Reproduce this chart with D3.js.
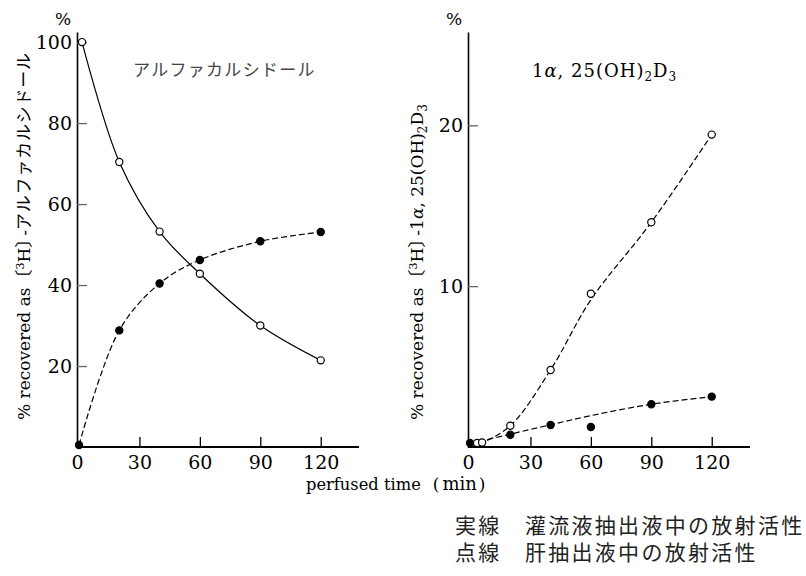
<!DOCTYPE html>
<html>
<head>
<meta charset="utf-8">
<script src="https://cdn.jsdelivr.net/npm/d3@7"></script>
<style>
  body { margin: 0; background: #fff; }
  svg { display: block; }
  .serif { font-family: "DejaVu Serif", "Liberation Serif", serif; }
  .jp { font-family: "Noto Sans CJK JP", sans-serif; }
</style>
</head>
<body>
<svg id="chart" width="806" height="576"></svg>
<script>
// ---- data ----
const xTicks = [0, 30, 60, 90, 120];
const leftYTicks = [20, 40, 60, 80, 100];
const rightYTicks = [10, 20];

// left panel: alfacalcidol
const leftOpenTimes = [1.5, 20, 40, 60, 90, 120];
const leftOpenValues = [100, 70.4, 53.2, 42.8, 30.0, 21.4];      // perfusate (solid)
const leftFilledTimes = [0, 20, 40, 60, 90, 120];
const leftFilledValues = [0.5, 28.8, 40.4, 46.2, 50.8, 53.1];    // liver (dashed)

// right panel: 1a,25(OH)2D3
const rightOpenTimes = [3.5, 6, 20, 40, 60, 90, 120];
const rightOpenValues = [0.25, 0.28, 1.32, 4.79, 9.53, 13.97, 19.42];
const rightFilledTimes = [0, 20, 40, 60, 90, 120];
const rightFilledValues = [0.25, 0.76, 1.37, 1.24, 2.66, 3.13];
// dashed curves on the right are smoothed fits
const rightOpenFitTimes = [0, 6, 20, 40, 60, 90, 120];
const rightOpenFitValues = [0.1, 0.28, 1.32, 4.79, 9.15, 13.97, 19.42];
const rightFilledFitTimes = [0, 20, 40, 60, 90, 120];
const rightFilledFitValues = [0.2, 0.8, 1.38, 1.95, 2.66, 3.13];

const svg = d3.select('#chart');
const zip = (ts, vs) => ts.map((t, i) => ({t: t, v: vs[i]}));

function drawPanel(opt) {
  const xScale = d3.scaleLinear().domain([-1, 139]).range([opt.x0, opt.x0 + 282]);
  const yScale = d3.scaleLinear().domain([0, opt.yMax]).range([447, 32]);

  // x axis, ticks pointing up
  const gx = svg.append('g')
    .attr('transform', 'translate(0,447)')
    .call(d3.axisBottom(xScale).tickValues(xTicks).tickSizeInner(-10).tickSizeOuter(0).tickPadding(9));
  gx.select('.domain').attr('stroke', '#000').attr('stroke-width', 2.2)
    .attr('d', `M${opt.x0},0H${opt.x0 + 282}`);
  gx.selectAll('.tick line').attr('stroke', '#000').attr('stroke-width', 1.3)
    .attr('display', d => d === 0 ? 'none' : null);
  gx.selectAll('.tick text').attr('class', 'serif').style('font-size', '19px').attr('fill', '#000')
    .attr('x', d => d === 0 ? opt.x0 - xScale(0) : 0);

  // y axis, ticks pointing right
  const gy = svg.append('g')
    .attr('transform', `translate(${opt.x0},0)`)
    .call(d3.axisLeft(yScale).tickValues(opt.yTicks).tickSizeInner(-10).tickSizeOuter(0).tickPadding(5));
  gy.select('.domain').attr('stroke', '#000').attr('stroke-width', 1.6);
  gy.selectAll('.tick line').attr('stroke', '#666').attr('stroke-width', 1.3);
  gy.selectAll('.tick text').attr('class', 'serif').style('font-size', '19px').attr('fill', '#000');

  // "%" unit
  svg.append('text').attr('class', 'serif')
    .attr('x', opt.x0 - 14).attr('y', 25)
    .style('text-anchor', 'middle').style('font-size', '17px')
    .text('%');

  const line = d3.line()
    .x(d => xScale(d.t))
    .y(d => yScale(d.v))
    .curve(d3.curveCatmullRom.alpha(0.5));

  opt.curves.forEach(c => {
    svg.append('path')
      .attr('d', line(c.data))
      .attr('fill', 'none')
      .attr('stroke', '#000')
      .attr('stroke-width', 1.2)
      .attr('stroke-dasharray', c.dashed ? '6,3' : null);
  });

  opt.points.forEach(p => {
    svg.append('g').selectAll('circle')
      .data(p.data)
      .enter()
      .append('circle')
      .attr('cx', d => xScale(d.t))
      .attr('cy', d => yScale(d.v))
      .attr('r', 3.6)
      .attr('fill', p.open ? '#fff' : '#000')
      .attr('stroke', '#000')
      .attr('stroke-width', 1.2);
  });
}

drawPanel({
  x0: 77, yMax: 102.5, yTicks: leftYTicks,
  curves: [
    {data: zip(leftOpenTimes, leftOpenValues), dashed: false},
    {data: zip(leftFilledTimes, leftFilledValues), dashed: true}
  ],
  points: [
    {data: zip(leftFilledTimes, leftFilledValues), open: false},
    {data: zip(leftOpenTimes, leftOpenValues), open: true}
  ]
});

drawPanel({
  x0: 468, yMax: 25.8, yTicks: rightYTicks,
  curves: [
    {data: zip(rightOpenFitTimes, rightOpenFitValues), dashed: true},
    {data: zip(rightFilledFitTimes, rightFilledFitValues), dashed: true}
  ],
  points: [
    {data: zip(rightFilledTimes, rightFilledValues), open: false},
    {data: zip(rightOpenTimes, rightOpenValues), open: true}
  ]
});

// panel titles
svg.append('text').attr('class', 'jp')
  .attr('x', 133).attr('y', 76)
  .style('font-size', '17px').style('letter-spacing', '1.3px').attr('fill', '#444')
  .text('アルファカルシドール');

function d3Formula(t) {
  t.append('tspan').text('1');
  t.append('tspan').style('font-style', 'italic').text('α');
  t.append('tspan').text(', 25(OH)');
  t.append('tspan').attr('dy', 4).style('font-size', '12px').text('2');
  t.append('tspan').attr('dy', -4).text('D');
  t.append('tspan').attr('dy', 4).style('font-size', '12px').text('3');
}

const rt = svg.append('text').attr('class', 'serif')
  .attr('x', 532).attr('y', 77)
  .style('font-size', '18px').style('letter-spacing', '1px');
d3Formula(rt);

// rotated y labels
function yLabel(x, tail) {
  const t = svg.append('text')
    .attr('transform', `translate(${x},420) rotate(-90)`)
    .attr('class', 'serif').style('font-size', '17px');
  t.append('tspan').text('% recovered as');
  t.append('tspan').attr('class', 'jp').style('font-size', '18px').text('〔');
  t.append('tspan').attr('dy', -6).style('font-size', '11px').text('3');
  t.append('tspan').attr('dy', 6).text('H');
  t.append('tspan').attr('class', 'jp').style('font-size', '18px').text('〕');
  t.append('tspan').attr('dx', -6).text('-');
  tail(t);
}

yLabel(30, t => {
  t.append('tspan').attr('class', 'jp').style('font-size', '17px').style('letter-spacing', '0.8px')
    .text('アルファカルシドール');
});

yLabel(423, t => {
  d3Formula(t);
});

// x axis title
const xt = svg.append('text').attr('class', 'serif')
  .attr('x', 306).attr('y', 490).style('font-size', '16.3px');
xt.append('tspan').text('perfused time');
xt.append('tspan').attr('dx', 12).style('font-size', '17px').text('(');
xt.append('tspan').attr('dx', 3).style('font-size', '18px').text('min');
xt.append('tspan').attr('dx', 2).style('font-size', '17px').text(')');

// legend notes
const notes = ['実線　灌流液抽出液中の放射活性', '点線　肝抽出液中の放射活性'];
svg.selectAll('.note')
  .data(notes)
  .enter()
  .append('text')
  .attr('class', 'jp note')
  .attr('x', 455)
  .attr('y', (d, i) => 533 + i * 27)
  .style('font-size', '21px')
  .style('letter-spacing', '2.3px')
  .attr('fill', '#222')
  .text(d => d);
</script>
</body>
</html>
